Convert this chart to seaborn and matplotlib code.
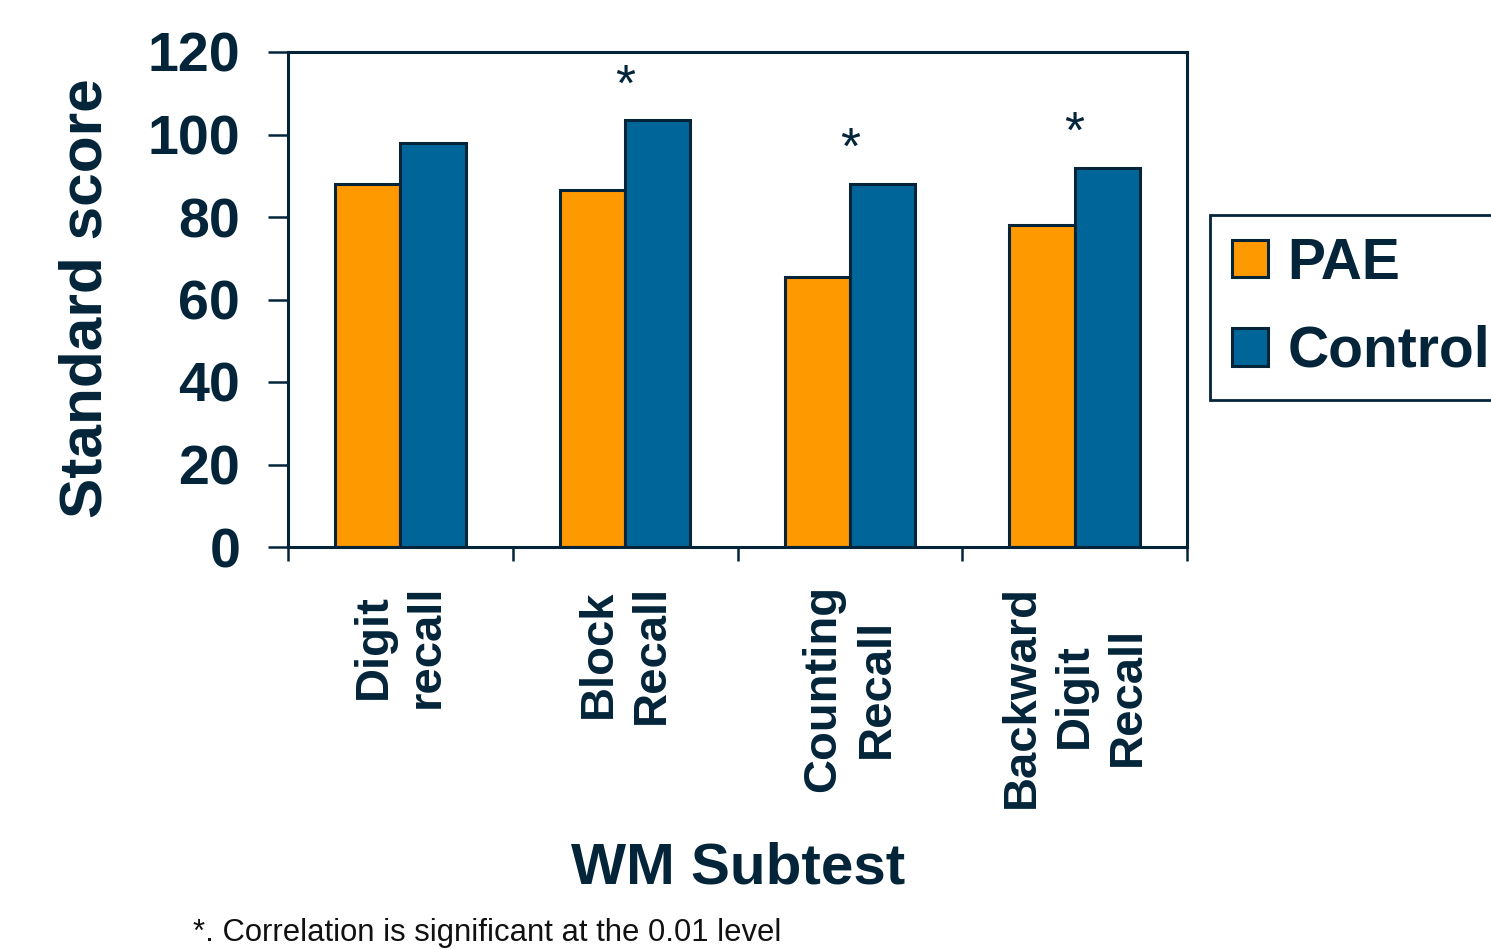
import matplotlib
matplotlib.use("Agg")
import matplotlib.pyplot as plt
from matplotlib import font_manager
import numpy as np
import pandas as pd
import seaborn as sns

# ---- data -------------------------------------------------------------
subtests = ["Digit\nrecall", "Block\nRecall", "Counting\nRecall", "Backward\nDigit\nRecall"]
groups = ["PAE", "Control"]
pae_scores = [88, 86.5, 65.5, 78]
control_scores = [98, 103.5, 88, 92]
significant = [False, True, True, True]
y_ticks = [0, 20, 40, 60, 80, 100, 120]

# ---- style ------------------------------------------------------------
ORANGE = "#FF9900"
BLUE = "#006699"
INK = "#042539"

sns.set_style("white")
plt.rcParams["font.family"] = ["Liberation Sans", "DejaVu Sans"]

W, H = 1491, 949
fig = plt.figure(figsize=(W / 100, H / 100), dpi=100)
fig.patch.set_facecolor("white")

# axes box in pixel coordinates: x 288..1187, y 52..547
ax = fig.add_axes([288 / W, 1 - 547 / H, (1187 - 288) / W, (547 - 52) / H])

df = pd.DataFrame({
    "subtest": subtests * 2,
    "group": [groups[0]] * len(subtests) + [groups[1]] * len(subtests),
    "score": pae_scores + control_scores,
})

sns.barplot(
    data=df, x="subtest", y="score", hue="group",
    order=subtests, hue_order=groups,
    palette=[ORANGE, BLUE], saturation=1,
    width=0.58, edgecolor=INK, linewidth=2.2,
    errorbar=None, ax=ax,
)

ax.set_xlim(-0.5, len(subtests) - 0.5)
ax.set_ylim(0, 120)
ax.set_xlabel("")
ax.set_ylabel("")

for side in ["left", "right", "top", "bottom"]:
    ax.spines[side].set_visible(True)
    ax.spines[side].set_color(INK)
    ax.spines[side].set_linewidth(2.2)

# y axis ticks
ax.set_yticks(y_ticks)
ax.set_yticklabels([str(v) for v in y_ticks], fontsize=40, fontweight="bold", color=INK)
ax.tick_params(axis="y", which="major", direction="out", length=14.4, width=1.8,
               color=INK, pad=20, left=True)

# x axis: labels at category centres, tick marks at category boundaries
ax.set_xticks(range(len(subtests)))
ax.set_xticklabels(subtests, rotation=90, va="top", ha="center",
                   multialignment="center", linespacing=1.27,
                   fontsize=34, fontweight="bold", color=INK)
ax.tick_params(axis="x", which="major", length=0, pad=27, bottom=True)
ax.set_xticks(np.arange(-0.5, len(subtests), 1.0), minor=True)
ax.tick_params(axis="x", which="minor", direction="out", length=10, width=1.8,
               color=INK, bottom=True)

# significance markers
for i, (flag, ctrl) in enumerate(zip(significant, control_scores)):
    if flag:
        ax.text(i, ctrl + 4.8, "*", ha="center", va="baseline",
                fontsize=37, color=INK)

# legend
handles, labels = ax.get_legend_handles_labels()
if ax.get_legend() is not None:
    ax.get_legend().remove()
leg = fig.legend(
    handles, labels, loc="upper left",
    bbox_to_anchor=(1210 / W, 1 - 215 / H), bbox_transform=fig.transFigure,
    prop={"size": 41, "weight": "bold"}, frameon=True, fancybox=False,
    framealpha=1, edgecolor=INK, handlelength=0.64, handleheight=0.64,
    handletextpad=0.34, labelspacing=0.6, borderpad=0.38, borderaxespad=0,
)
leg.get_frame().set_linewidth(2)
for t in leg.get_texts():
    t.set_color(INK)

# axis titles
fig.text(102 / W, 1 - 298.5 / H, "Standard score", rotation=90, rotation_mode="anchor",
         ha="center", va="baseline", fontsize=43.5, fontweight="bold", color=INK)
fig.text(738.5 / W, 1 - 883 / H, "WM Subtest", ha="center", va="baseline",
         fontsize=42, fontweight="bold", color=INK)

# footnote: a narrow face if one is installed, otherwise a smaller regular face
installed = {f.name for f in font_manager.fontManager.ttflist}
if "Liberation Sans Narrow" in installed:
    note_family, note_size = ["Liberation Sans Narrow", "DejaVu Sans"], 26
else:
    note_family, note_size = ["Liberation Sans", "DejaVu Sans"], 22.3
fig.text(193 / W, 1 - 941 / H, "*. Correlation is significant at the 0.01 level",
         ha="left", va="baseline", fontsize=note_size, color="#111111",
         family=note_family)

fig.savefig("out.png", dpi=100)
